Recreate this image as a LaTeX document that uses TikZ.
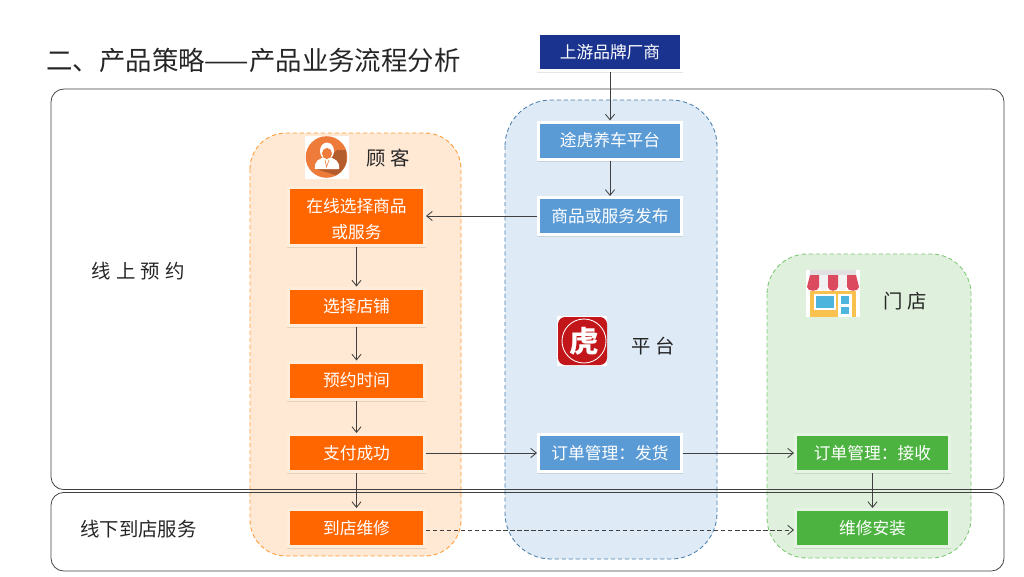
\documentclass[tikz,border=0pt]{standalone}
\usepackage{fontspec}
\setmainfont{Noto Sans CJK SC}
\usetikzlibrary{arrows.meta, shadows}
\definecolor{mOrange}{HTML}{FF6600}
\definecolor{mBlue}{HTML}{5B9BD5}
\definecolor{mNavy}{HTML}{1A338F}
\definecolor{mGreen}{HTML}{4CB340}
\definecolor{mLine}{HTML}{404040}
\definecolor{mIcon}{HTML}{EE7B3A}
\definecolor{mLogo}{HTML}{C2161B}
\definecolor{mAwning}{HTML}{DC4A60}
\definecolor{mWindow}{HTML}{4DB4DE}
\definecolor{mWall}{HTML}{F9C24E}

\begin{document}
\begin{tikzpicture}[
    x=0.25mm, y=-0.25mm,
    box/.style={draw=white, line width=0.75mm, text=white, align=center, inner sep=0pt,
                font=\fontsize{11.9}{18.5}\selectfont, minimum height=9.25mm,
                drop shadow={shadow xshift=0.3pt, shadow yshift=-1pt, opacity=0.1, fill=black, draw=black, line width=0.75mm}},
    custbox/.style={box, fill=mOrange, draw=orange!14!white, minimum width=34mm},
    platbox/.style={box, fill=mBlue, minimum width=35.75mm},
    topbox/.style={box, fill=mNavy, minimum width=35.75mm},
    shopbox/.style={box, fill=mGreen, draw=mGreen!14!white, minimum width=38.5mm},
    lane/.style={densely dashed, line width=0.6pt},
    frame/.style={draw=mLine, line width=0.55pt, rounded corners=3.2mm},
    caption/.style={text=black!85, inner sep=0pt, font=\fontsize{13.8}{16}\selectfont},
    flow/.style={-{Straight Barb[length=4pt,width=6.5pt]}, draw=mLine, line width=0.6pt},
  ]
    \useasboundingbox (0,0) rectangle (1024,576);

    % lanes
    \draw[lane, draw=orange!80, fill=orange!17!white, rounded corners=9mm] (250,133) rectangle (461,556);
    \draw[lane, draw=mBlue!80!black, fill=mBlue!20!white, rounded corners=11.5mm] (505,100) rectangle (717,559);
    \draw[lane, draw=mGreen!75, fill=mGreen!18!white, rounded corners=10mm] (767,254) rectangle (971,558);

    % frames
    \draw[frame] (51,89) rectangle (1004,489.6);
    \draw[frame] (51,492.4) rectangle (1004,571);

    % title and captions
    \node[anchor=west, inner sep=0pt, text=black!85, font=\fontsize{18.8}{22}\selectfont] (title) at (46,60) {二、产品策略——产品业务流程分析};
    \node[caption, anchor=west] (online) at (91,271) {线\hspace{0.28em}上\hspace{0.28em}预\hspace{0.28em}约};
    \node[caption, anchor=west] (offline) at (80,529) {线下到店服务};
    \node[caption, anchor=west] (custlabel) at (366,158) {顾 客};
    \node[caption, anchor=west] (platlabel) at (631,346) {平 台};
    \node[caption, anchor=west] (shoplabel) at (883,301) {门 店};

    % customer icon
    \fill[white] (305,136) rectangle (349,179);
    \fill[mIcon] (326.5,157) circle (20.8);
    \fill[black!60!mIcon, opacity=0.4] (316,169) -- (337,150) -- (346,150) -- (346.5,162) arc (14:62:20.8) -- cycle;
    \fill[white] (315,169) .. controls (314,161) and (319,158) .. (327,157) .. controls (335,158) and (340,161) .. (339,169) -- cycle;
    \fill[white] (327,151) ellipse (7 and 8.5);
    \fill[mIcon] (327,153.5) ellipse (5 and 5.5);
    \draw[mIcon, line width=0.4pt] (325,160) -- (326.5,167) -- (329,160);

    % platform icon
    \fill[white] (557,316) rectangle (607,366);
    \fill[mLogo, rounded corners=1.8mm] (558,317) rectangle (607,365);
    \draw[white, line width=0.6pt] (584,341) circle (22);
    \node[text=white, inner sep=0pt, font=\fontsize{21}{24}\bfseries\selectfont] (logo) at (584,341) {虎};

    % shop icon
    \fill[white] (806,270) rectangle (860,317);
    \fill[black!12] (810,270) rectangle (856,276);
    \fill[mWall] (810,291) rectangle (856,317);
    \fill[white] (814,294) rectangle (836,310);
    \fill[mWindow] (816,296) rectangle (834,308);
    \fill[white] (838,294) rectangle (852,317);
    \fill[mWindow] (841,296) rectangle (849,304);
    \fill[mWindow] (841,307) rectangle (849,314);
    \foreach \sx/\ex in {819/828, 838/847}
      \fill[black!5] (\sx,275) -- (\ex,275) -- (\ex,287) .. controls (\ex,292) and (\sx,292) .. (\sx,287) -- cycle;
    \fill[mAwning] (810,275) -- (819,275) -- (819,287) .. controls (819,292) and (807,292) .. (807,287) -- cycle;
    \fill[mAwning] (828,275) -- (838,275) -- (838,287) .. controls (838,292) and (828,292) .. (828,287) -- cycle;
    \fill[mAwning] (847,275) -- (856,275) -- (859,287) .. controls (859,292) and (847,292) .. (847,287) -- cycle;

    % boxes
    \node[topbox] (maker) at (610,52) {上游品牌厂商};
    \node[platbox] (tuhu) at (610,140.5) {途虎养车平台};
    \node[platbox] (publish) at (610,216) {商品或服务发布};
    \node[platbox] (ship) at (610,453) {订单管理：发货};
    \node[custbox, minimum height=14.5mm] (choose) at (356.5,216.5) {\rule{0pt}{13.5pt}在线选择商品\\或服务};
    \node[custbox] (store) at (356.5,306.5) {选择店铺};
    \node[custbox] (book) at (356.5,380.5) {预约时间};
    \node[custbox] (pay) at (356.5,453) {支付成功};
    \node[custbox] (repair) at (356.5,528) {到店维修};
    \node[shopbox] (receive) at (872.5,453) {订单管理：接收};
    \node[shopbox] (fit) at (872.5,528) {维修安装};

    % connectors
    \draw[flow] (maker) -- (tuhu);
    \draw[flow] (tuhu) -- (publish);
    \draw[flow] (publish) -- (choose.east |- publish);
    \draw[flow] (choose) -- (store);
    \draw[flow] (store) -- (book);
    \draw[flow] (book) -- (pay);
    \draw[flow] (pay) -- (repair);
    \draw[flow] (pay) -- (ship);
    \draw[flow] (ship) -- (receive);
    \draw[flow] (receive) -- (fit);
    \draw[flow, densely dashed] ([yshift=-1.4pt]repair.east) -- ([yshift=-1.4pt]fit.west);
  \end{tikzpicture}
\end{document}
